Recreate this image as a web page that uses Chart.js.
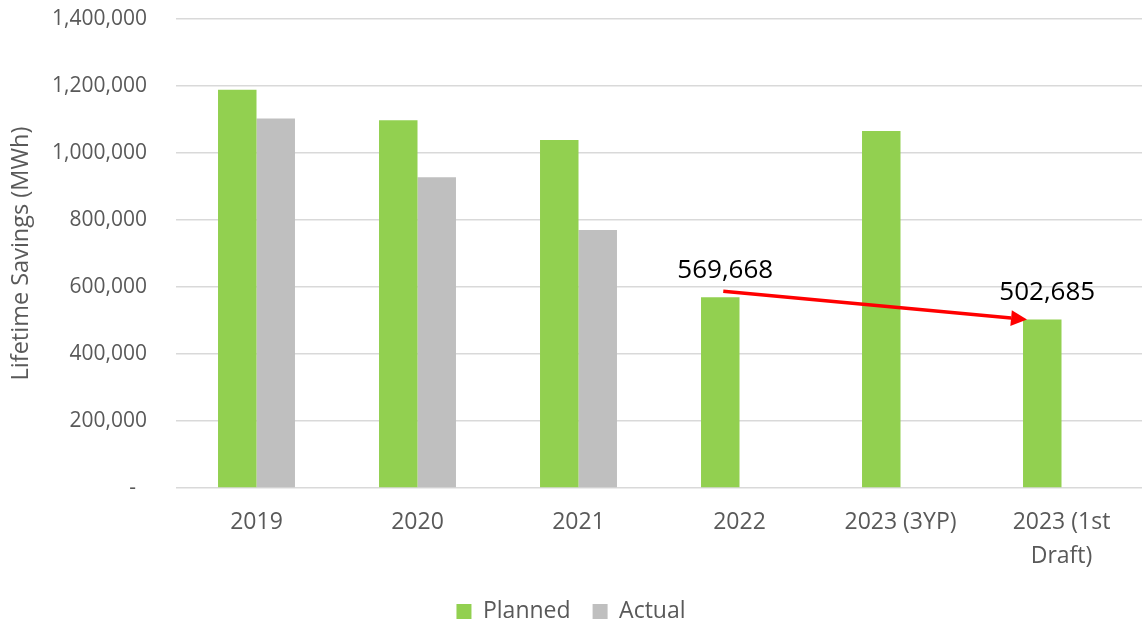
<!DOCTYPE html>
<html>
<head>
<meta charset="utf-8">
<title>Lifetime Savings</title>
<script src="https://cdn.jsdelivr.net/npm/chart.js@4.4.1/dist/chart.umd.min.js"></script>
<style>
  html, body { margin: 0; padding: 0; background: #fff; }
  #wrap { width: 1145px; height: 624px; }
</style>
</head>
<body>
<div id="wrap"><canvas id="chart" width="1145" height="624"></canvas></div>
<script>
// categories and series
const years = ['2019', '2020', '2021', '2022', '2023 (3YP)', ['2023 (1st', 'Draft)']];
const planned = [1189000, 1097600, 1038500, 569668, 1065500, 502685];
const actual = [1102700, 927400, 770500, null, null, null];
const yTicks = [0, 200000, 400000, 600000, 800000, 1000000, 1200000, 1400000];

const fontFamily = '"Open Sans", "Noto Sans", sans-serif';
const textGrey = '#595959';

const fmt = v => v.toLocaleString('en-US');

// value labels over the 2022 and 2023 draft bars, plus the red arrow between them
const arrowPlugin = {
    id: 'arrowPlugin',
    afterDatasetsDraw(chart) {
        const meta = chart.getDatasetMeta(0);
        const from = meta.data[3];
        const to = meta.data[5];
        const c = chart.ctx;
        c.save();

        // labels
        c.fillStyle = '#000';
        c.font = '26px ' + fontFamily;
        c.textAlign = 'center';
        c.textBaseline = 'bottom';
        c.fillText(fmt(planned[3]), from.x + 5, from.y - 14);
        c.fillText(fmt(planned[5]), to.x + 5, to.y - 14);

        // arrow
        const x1 = from.x + 3, y1 = from.y - 6;
        const x2 = to.x - to.width / 2 + 4, y2 = to.y;
        const ang = Math.atan2(y2 - y1, x2 - x1);
        const head = 16, half = 8;
        c.strokeStyle = '#ff0000';
        c.fillStyle = '#ff0000';
        c.lineWidth = 3.5;
        c.beginPath();
        c.moveTo(x1, y1);
        c.lineTo(x2 - Math.cos(ang) * head, y2 - Math.sin(ang) * head);
        c.stroke();
        c.beginPath();
        c.moveTo(x2, y2);
        c.lineTo(x2 - Math.cos(ang) * head - Math.sin(ang) * half, y2 - Math.sin(ang) * head + Math.cos(ang) * half);
        c.lineTo(x2 - Math.cos(ang) * head + Math.sin(ang) * half, y2 - Math.sin(ang) * head - Math.cos(ang) * half);
        c.closePath();
        c.fill();
        c.restore();
    }
};

// fixed legend height so it sits close to the bottom edge
const legendHeight = {
    id: 'legendHeight',
    beforeInit(chart) {
        const fit = chart.legend.fit;
        chart.legend.fit = function () {
            fit.call(this);
            this.height = 46;
        };
    }
};

new Chart(document.getElementById('chart'), {
    type: 'bar',
    data: {
        labels: years,
        datasets: [
            { label: 'Planned', data: planned, backgroundColor: '#92d050' },
            { label: 'Actual', data: actual, backgroundColor: '#bfbfbf' }
        ]
    },
    options: {
        responsive: false,
        animation: false,
        devicePixelRatio: 1,
        layout: { padding: { top: 19, right: 3, left: 0, bottom: 0 } },
        datasets: {
            bar: { categoryPercentage: 0.478, barPercentage: 1.0 }
        },
        plugins: {
            tooltip: { enabled: false },
            legend: {
                position: 'bottom',
                labels: {
                    boxWidth: 15,
                    boxHeight: 15,
                    padding: 22,
                    color: textGrey,
                    font: { family: fontFamily, size: 23 }
                }
            }
        },
        scales: {
            x: {
                grid: { display: false, drawTicks: false },
                border: { display: false },
                ticks: {
                    color: textGrey,
                    padding: 18,
                    maxRotation: 0,
                    autoSkip: false,
                    font: { family: fontFamily, size: 23, lineHeight: 1.45 }
                },
                afterFit: s => { s.height = 90; }
            },
            y: {
                min: 0,
                max: 1400000,
                afterBuildTicks: s => { s.ticks = yTicks.map(v => ({ value: v })); },
                grid: { color: '#d9d9d9', lineWidth: 1.5, drawTicks: false },
                border: { display: false },
                ticks: {
                    color: textGrey,
                    padding: 29,
                    font: { family: fontFamily, size: 21 },
                    callback: v => v === 0 ? '-  ' : fmt(v)
                },
                title: {
                    display: true,
                    text: 'Lifetime Savings (MWh)',
                    color: textGrey,
                    padding: { top: 7, bottom: 0 },
                    font: { family: fontFamily, size: 23.5 }
                },
                afterFit: s => {
                    s.width = 176;
                    s.paddingTop = 12;
                    s.paddingBottom = 12;
                }
            }
        }
    },
    plugins: [arrowPlugin, legendHeight]
});
</script>
</body>
</html>
